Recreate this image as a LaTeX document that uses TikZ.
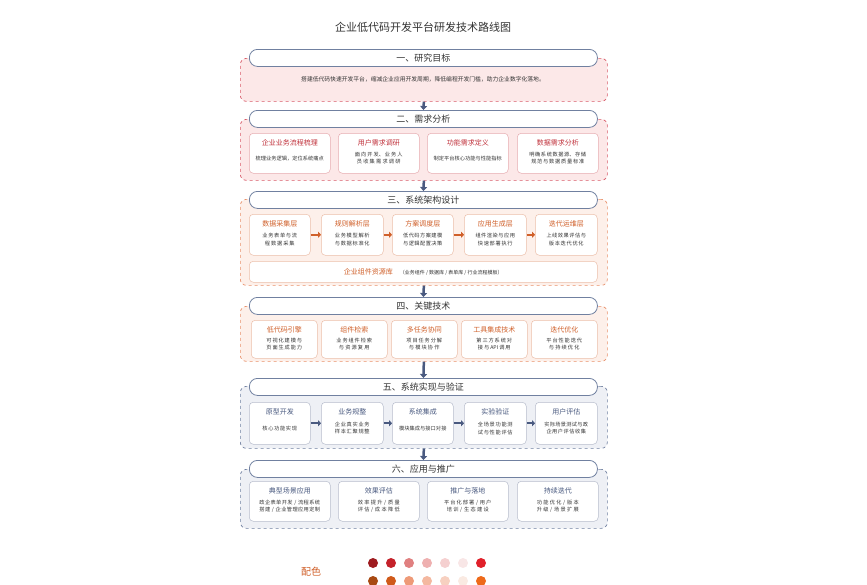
\documentclass[tikz,border=0pt]{standalone}
\usepackage{fontspec}
\setmainfont{Noto Sans CJK SC}
\XeTeXlinebreaklocale "zh"
\XeTeXlinebreakskip=0pt plus 1pt
\usetikzlibrary{arrows.meta,calc}
\definecolor{rA}{HTML}{C0303A}\definecolor{rF}{HTML}{FCE8E8}\definecolor{rB}{HTML}{D85A68}
\definecolor{oA}{HTML}{D0602A}\definecolor{oF}{HTML}{FDF0EA}\definecolor{oB}{HTML}{E8906A}
\definecolor{bA}{HTML}{4A5A80}\definecolor{bF}{HTML}{EEF0F5}\definecolor{bB}{HTML}{7080A0}
\definecolor{txt}{HTML}{333333}
\tikzset{
 sec/.style={draw=#1, dashed, line width=0.7pt, rounded corners=6pt},
 hdr/.style={draw=bB, fill=white, rounded corners=8pt, line width=0.8pt, font=\fontsize{9}{10}\selectfont, text=txt},
 card/.style={draw=#1!40, fill=white, rounded corners=4pt, line width=0.5pt},
 ctitle/.style={font=\fontsize{7}{8}\selectfont, text=#1},
 ctext/.style={font=\fontsize{5.2}{7.5}\selectfont, text=txt, align=center, inner sep=0pt},
 down/.style={-{Triangle[length=4pt,width=7pt]}, line width=2.5pt, draw=bA},
 rarr/.style={-{Triangle[length=3pt,width=6pt]}, line width=2pt, draw=#1},
 dot/.style={circle, inner sep=0pt, minimum size=10pt, fill=#1}
}
\newcommand{\mycard}[8]{% name,x1,x2,y1,y2,color,title,text
 \pgfmathsetlengthmacro{\cw}{(#3-#2)*1pt}
 \pgfmathsetlengthmacro{\ch}{(#5-#4)*1pt}
 \pgfmathsetlengthmacro{\tw}{(#3-#2-12)*1pt}
 \node[card=#6, minimum width=\cw, minimum height=\ch, anchor=north west] (#1) at (#2,#4) {};
 \node[ctitle=#6] (#1t) at ($(#1.north)+(0,10)$) {#7};
 \node[ctext, text width=\tw] (#1d) at ($(#1.center)+(0,5)$) {#8};}
\begin{document}
\begin{tikzpicture}[x=1pt,y=-1pt]
\useasboundingbox (0,0) rectangle (867,584);
\node[font=\fontsize{11}{12}\selectfont, text=txt] (title) at (423,27) {企业低代码开发平台研发技术路线图};
% section 1
\node[sec=rB, fill=rF, minimum width=367pt, minimum height=43pt, anchor=north west] (s1) at (240,58) {};
\node[hdr, minimum width=348pt, minimum height=17pt, anchor=north west] (h1) at (249,49) {一、研究目标};
\node[font=\fontsize{5.8}{7}\selectfont, text=txt] (g1) at (423,79) {搭建低代码快速开发平台，缩减企业应用开发周期，降低编程开发门槛，助力企业数字化落地。};
% section 2
\node[sec=rB, fill=rF, minimum width=367pt, minimum height=61pt, anchor=north west] (s2) at (240,119) {};
\node[hdr, minimum width=348pt, minimum height=17pt, anchor=north west] (h2) at (249,110) {二、需求分析};
\mycard{c21}{249}{330}{133}{173}{rA}{企业业务流程梳理}{梳理业务逻辑，定位系统痛点}
\mycard{c22}{338}{419}{133}{173}{rA}{用户需求调研}{面向开发、业务人员收集需求调研}
\mycard{c23}{427}{508}{133}{173}{rA}{功能需求定义}{制定平台核心功能与性能指标}
\mycard{c24}{517}{598}{133}{173}{rA}{数据需求分析}{明确系统数据源、存储规范与数据质量标准}
% section 3
\node[sec=oB, fill=oF, minimum width=367pt, minimum height=86pt, anchor=north west] (s3) at (240,199) {};
\node[hdr, minimum width=348pt, minimum height=17pt, anchor=north west] (h3) at (249,191) {三、系统架构设计};
\mycard{c31}{249}{310}{214}{255}{oA}{数据采集层}{业务表单与流程数据采集}
\mycard{c32}{321}{383}{214}{255}{oA}{规则解析层}{业务模型解析与数据标准化}
\mycard{c33}{392}{453}{214}{255}{oA}{方案调度层}{低代码方案建模与逻辑配置决策}
\mycard{c34}{464}{526}{214}{255}{oA}{应用生成层}{组件渲染与应用快速部署执行}
\mycard{c35}{535}{597}{214}{255}{oA}{迭代运维层}{上线效果评估与版本迭代优化}
\draw[rarr=oA] (c31) -- (c32); \draw[rarr=oA] (c32) -- (c33); \draw[rarr=oA] (c33) -- (c34); \draw[rarr=oA] (c34) -- (c35);
\node[card=oA, minimum width=348pt, minimum height=21pt, anchor=north west] (lib) at (249,261) {};
\node (libt) at (lib.center) {\fontsize{7}{8}\selectfont\color{oA}企业组件资源库\quad\fontsize{5}{6}\selectfont\color{txt}（业务组件 / 数据库 / 表单库 / 行业流程模板）};
% section 4
\node[sec=oB, fill=oF, minimum width=367pt, minimum height=55pt, anchor=north west] (s4) at (240,306) {};
\node[hdr, minimum width=348pt, minimum height=17pt, anchor=north west] (h4) at (249,297) {四、关键技术};
\mycard{c41}{251}{317}{320}{358}{oA}{低代码引擎}{可视化建模与页面生成能力}
\mycard{c42}{321}{387}{320}{358}{oA}{组件检索}{业务组件检索与资源复用}
\mycard{c43}{391}{457}{320}{358}{oA}{多任务协同}{项目任务分解与模块协作}
\mycard{c44}{461}{527}{320}{358}{oA}{工具集成技术}{第三方系统对接与API调用}
\mycard{c45}{531}{597}{320}{358}{oA}{迭代优化}{平台性能迭代与持续优化}
% section 5
\node[sec=bB, fill=bF, minimum width=367pt, minimum height=62pt, anchor=north west] (s5) at (240,386) {};
\node[hdr, minimum width=348pt, minimum height=17pt, anchor=north west] (h5) at (249,378) {五、系统实现与验证};
\mycard{c51}{249}{310}{402}{444}{bA}{原型开发}{核心功能实现}
\mycard{c52}{321}{383}{402}{444}{bA}{业务规整}{企业真实业务样本汇聚规整}
\mycard{c53}{392}{453}{402}{444}{bA}{系统集成}{模块集成与接口对接}
\mycard{c54}{464}{526}{402}{444}{bA}{实验验证}{全场景功能测试与性能评估}
\mycard{c55}{535}{597}{402}{444}{bA}{用户评估}{实际场景测试与政企用户评估收集}
\draw[rarr=bA] (c51) -- (c52); \draw[rarr=bA] (c52) -- (c53); \draw[rarr=bA] (c53) -- (c54); \draw[rarr=bA] (c54) -- (c55);
% section 6
\node[sec=bB, fill=bF, minimum width=367pt, minimum height=59pt, anchor=north west] (s6) at (240,469) {};
\node[hdr, minimum width=348pt, minimum height=17pt, anchor=north west] (h6) at (249,460) {六、应用与推广};
\mycard{c61}{249}{330}{481}{521}{bA}{典型场景应用}{政企表单开发 / 流程系统搭建 / 企业管理应用定制}
\mycard{c62}{338}{419}{481}{521}{bA}{效果评估}{效率提升 / 质量评估 / 成本降低}
\mycard{c63}{427}{508}{481}{521}{bA}{推广与落地}{平台化部署 / 用户培训 / 生态建设}
\mycard{c64}{517}{598}{481}{521}{bA}{持续迭代}{功能优化 / 版本升级 / 场景扩展}
% down arrows
\draw[down] (s1.south) -- (h2.north);
\draw[down] (s2.south) -- (h3.north);
\draw[down] (s3.south) -- (h4.north);
\draw[down] (s4.south) -- (h5.north);
\draw[down] (s5.south) -- (h6.north);
% palette
\node[font=\fontsize{10}{11}\selectfont, text=oA] (pal) at (311,572) {配色};
\foreach \c [count=\i] in {9E1B1F,C4222A,E08080,EEB0B0,F5D0D0,F8E6E6,E0202A}{
 \definecolor{tmpc}{HTML}{\c}
 \node[dot=tmpc] (p1\i) at (355+18*\i,563) {};}
\foreach \c [count=\i] in {A84A12,D05A1A,EE9A78,F4B8A0,F7D0C0,FAEAE2,EE6A1A}{
 \definecolor{tmpc}{HTML}{\c}
 \node[dot=tmpc] (p2\i) at (355+18*\i,581) {};}
\end{tikzpicture}
\end{document}
